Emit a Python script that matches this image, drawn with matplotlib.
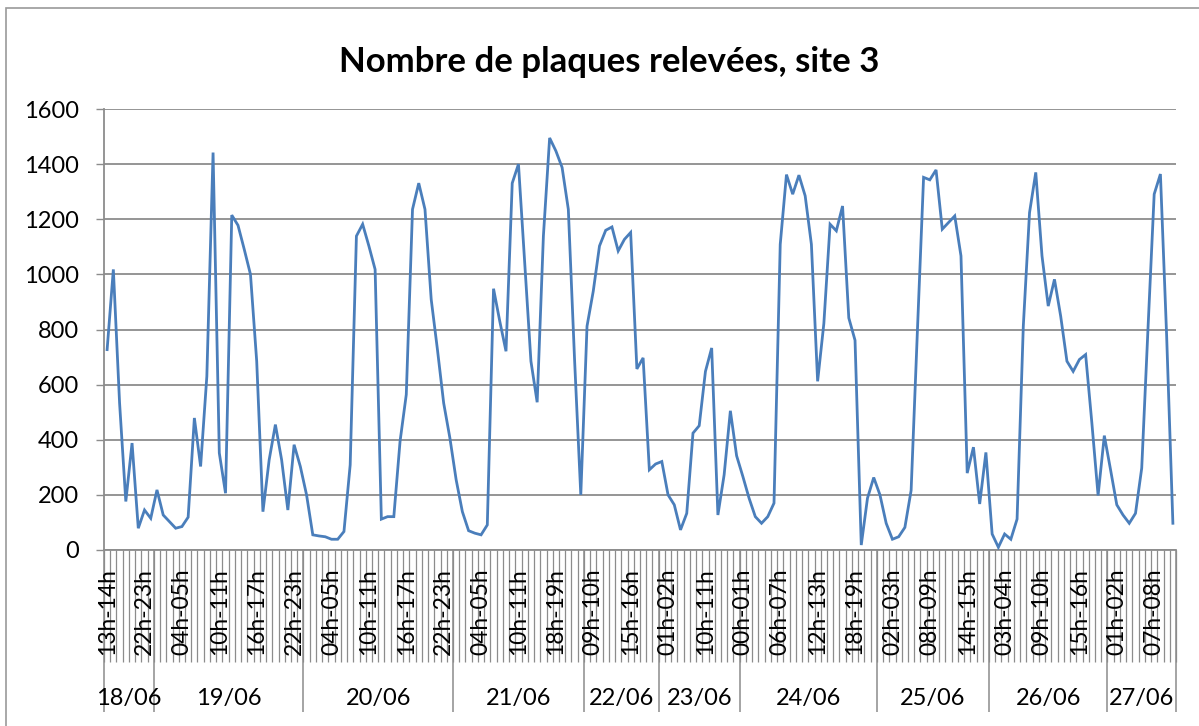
import numpy as np
import matplotlib
matplotlib.use('Agg')
import matplotlib.pyplot as plt
from matplotlib.patches import Rectangle

plt.rcParams['font.family'] = ['Lato', 'DejaVu Sans']

# hourly counts, 18/06 13h-14h -> 27/06 (some hours missing in the source)
counts = [
    727, 1018, 533, 176, 388, 79, 145, 115, 218, 127,
    103, 79, 85, 119, 479, 303, 630, 1442, 352, 206,
    1215, 1178, 1091, 1000, 685, 139, 327, 455, 327, 145,
    382, 303, 200, 55, 51, 48, 39, 39, 67, 309,
    1139, 1182, 1103, 1018, 112, 121, 121, 394, 564, 1236,
    1331, 1236, 909, 727, 533, 406, 255, 139, 70, 61,
    55, 91, 948, 830, 721, 1331, 1400, 1042, 685, 536,
    1139, 1495, 1448, 1388, 1236, 691, 200, 812, 939, 1103,
    1160, 1172, 1085, 1127, 1152, 657, 697, 291, 312, 321,
    200, 164, 73, 133, 424, 451, 648, 733, 127, 273,
    505, 342, 267, 188, 121, 97, 121, 170, 1109, 1362,
    1291, 1360, 1285, 1109, 612, 822, 1182, 1158, 1248, 842,
    761, 18, 188, 263, 200, 97, 39, 48, 82, 216,
    790, 1352, 1343, 1379, 1164, 1188, 1212, 1067, 279, 373,
    167, 354, 58, 10, 58, 39, 112, 812, 1224, 1370,
    1067, 885, 982, 848, 685, 648, 691, 709, 461, 198,
    415, 291, 164, 127, 97, 133, 297, 800, 1291, 1364,
    776, 97]

# every 6th hour label shown on the axis
hour_labels = ['13h-14h', '22h-23h',
               '04h-05h', '10h-11h', '16h-17h', '22h-23h',
               '04h-05h', '10h-11h', '16h-17h', '22h-23h',
               '04h-05h', '10h-11h', '18h-19h',
               '09h-10h', '15h-16h',
               '01h-02h', '10h-11h',
               '00h-01h', '06h-07h', '12h-13h', '18h-19h',
               '02h-03h', '08h-09h', '14h-15h',
               '03h-04h', '09h-10h', '15h-16h',
               '01h-02h', '07h-08h']
label_step = 6

days = ['18/06', '19/06', '20/06', '21/06', '22/06', '23/06', '24/06', '25/06', '26/06', '27/06']
day_counts = [8, 24, 24, 21, 12, 13, 22, 18, 19, 11]

W, H = 1199, 726
fig = plt.figure(figsize=(W / 100, H / 100), dpi=100)
fig.add_artist(Rectangle((6 / W, -0.1), 1.2, 1.1 - 8 / H, transform=fig.transFigure,
                         fill=False, edgecolor='#9a9a9a', lw=1.2))

ax = fig.add_axes([104 / W, (H - 550) / H, (1176 - 104) / W, (550 - 109) / H])
n = len(counts)
x = np.arange(n)
ax.plot(x, counts, color='#4A7EBB', lw=2.0, solid_joinstyle='miter', zorder=3)

gray = '#8c8c8c'
ax.set_ylim(0, 1600)
ax.set_yticks(np.arange(0, 1601, 200))
ax.grid(axis='y', color=gray, lw=1.3)
ax.tick_params(axis='y', direction='out', length=5.8, width=1, color=gray,
               labelsize=17, pad=12)
ax.set_xlim(-0.5, n - 0.5)
for s in ['top', 'right']:
    ax.spines[s].set_visible(False)
for s in ['left', 'bottom']:
    ax.spines[s].set_color(gray)
    ax.spines[s].set_linewidth(1.3)

# category boundaries + hour labels
ax.set_xticks(np.arange(n + 1) - 0.5)
ax.set_xticklabels([])
ax.tick_params(axis='x', which='major', direction='out', length=80.6, width=0.9, color=gray)
ax.set_xticks(np.arange(0, n, label_step)[:len(hour_labels)], minor=True)
ax.set_xticklabels(hour_labels, minor=True, rotation=90, va='top', ha='center')
ax.tick_params(axis='x', which='minor', length=0, labelsize=16.4, pad=13)

# day level
edges = np.concatenate([[0], np.cumsum(day_counts)]) - 0.5
sec = ax.secondary_xaxis('bottom')
sec.spines['bottom'].set_visible(False)
sec.set_xticks(edges)
sec.set_xticklabels([])
sec.tick_params(axis='x', which='major', direction='out', length=116.6, width=1.1, color=gray)
sec.set_xticks((edges[:-1] + edges[1:]) / 2, minor=True)
sec.set_xticklabels(days, minor=True)
sec.tick_params(axis='x', which='minor', length=0, labelsize=17, pad=99)

fig.text(609 / W, 1 - 62 / H, 'Nombre de plaques relevées, site 3', ha='center', va='center',
         fontsize=25, fontweight='bold')

fig.savefig('out.png', dpi=100)
